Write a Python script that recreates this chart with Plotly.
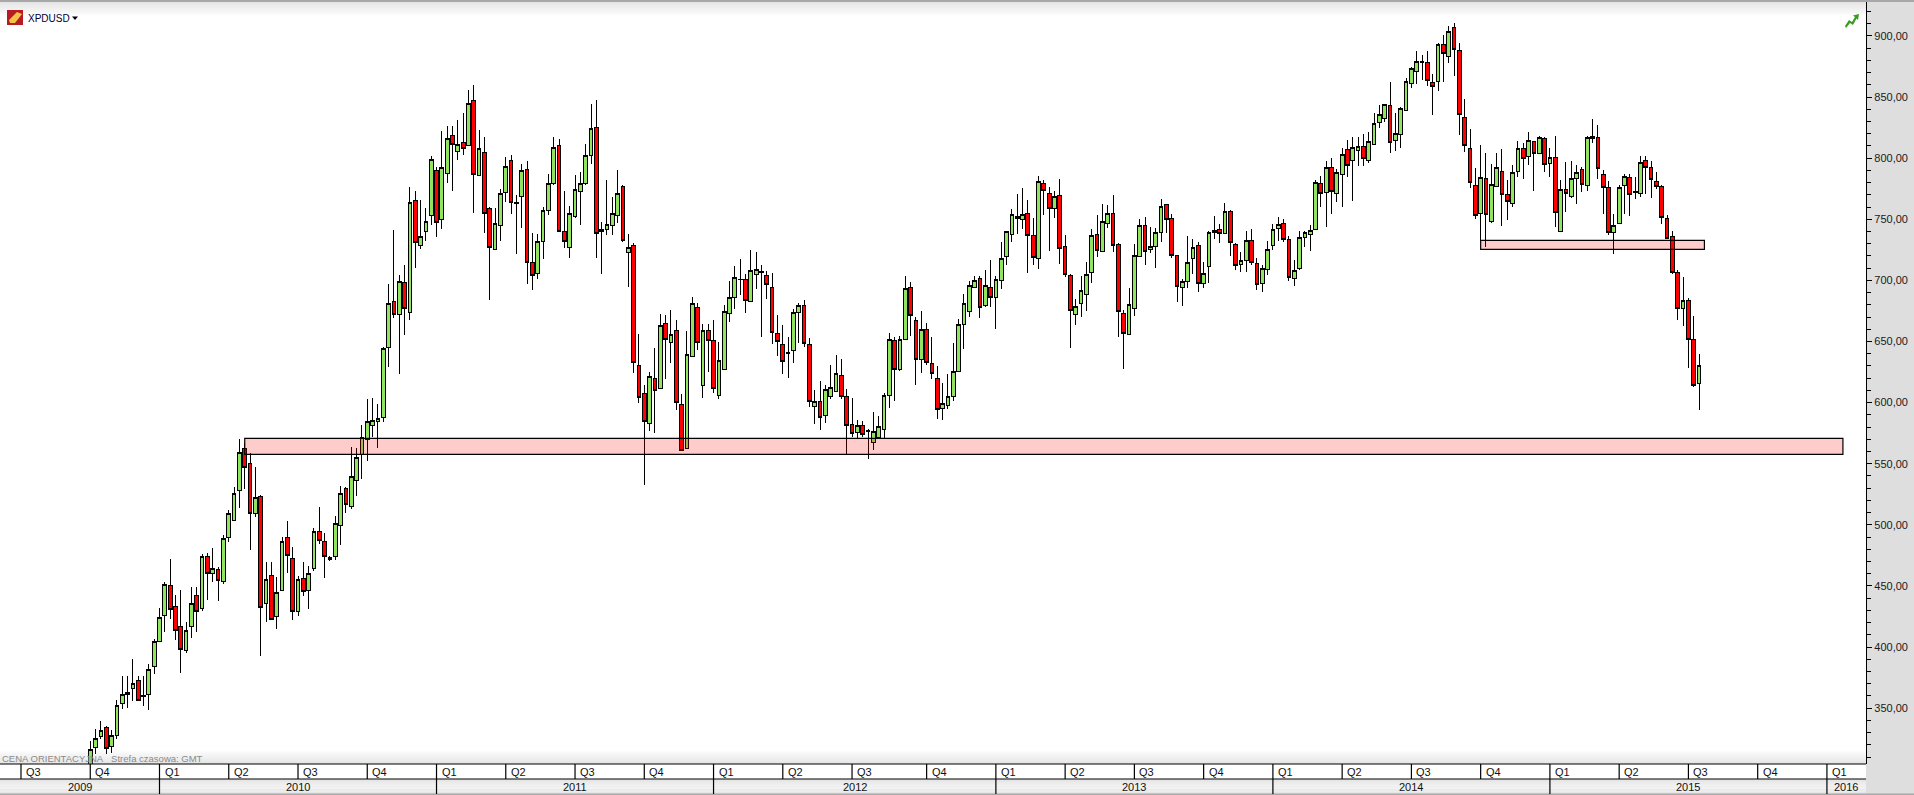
import pandas as pd
import plotly.graph_objects as go

first_week = "2009-09-28"

opens = [
302.0,317.8,326.8,333.9,318.7,327.7,353.9,362.9,366.1,372.4,360.4,361.2,384.1,404.6,425.9,450.4,433.2,416.6,397.2,416.9,
442.2,431.6,474.2,460.2,463.5,453.7,489.7,503.6,528.2,562.5,550.3,509.3,523.3,435.7,458.6,425.0,446.3,489.7,472.5,429.1,
456.1,446.3,464.3,494.6,486.4,473.6,474.2,499.5,529.8,515.1,536.3,557.7,570.2,581.4,584.7,588.0,645.2,682.9,672.2,698.4,
673.9,765.5,728.7,740.2,753.3,790.1,750.0,787.6,818.7,805.6,813.0,810.5,847.4,786.0,804.8,759.0,725.4,745.1,772.1,798.3,
763.9,768.8,790.9,714.8,705.8,732.0,757.4,779.4,810.5,740.2,727.1,752.4,772.9,779.4,802.4,825.3,740.2,741.8,745.1,753.3,
777.0,723.0,728.7,630.5,607.6,583.0,619.9,611.7,664.9,649.3,659.1,598.6,562.6,637.9,678.0,614.1,659.1,650.9,606.0,627.2,
673.1,686.2,700.9,700.9,682.9,704.9,706.9,704.2,694.3,656.7,647.7,640.9,642.8,673.9,679.6,647.7,596.9,601.0,589.6,605.1,
609.2,622.3,605.1,582.2,575.7,581.4,577.3,567.5,571.6,578.1,606.0,650.9,627.2,651.8,694.3,667.3,635.4,660.0,632.1,619.9,
595.3,597.8,605.1,625.6,664.1,674.7,694.3,701.7,679.6,694.3,686.2,700.1,719.7,737.7,750.8,750.0,754.9,736.9,718.1,779.5,
771.3,759.0,769.6,727.9,704.2,672.2,681.2,688.6,706.6,737.7,723.8,746.7,754.9,729.5,673.1,655.9,677.1,719.7,745.1,725.4,
727.9,739.4,762.0,750.8,720.5,694.3,699.2,718.1,728.7,697.6,711.5,739.4,741.8,738.5,756.5,729.5,713.2,716.4,732.8,714.0,
697.6,709.1,728.7,742.6,746.7,733.6,701.7,709.9,735.3,737.7,741.8,779.5,772.1,792.5,771.3,786.8,807.3,798.3,806.5,809.7,
798.3,811.4,829.4,832.7,843.3,814.7,819.6,839.2,861.3,871.1,879.0,878.5,862.1,862.9,893.2,883.4,907.1,888.3,833.5,808.1,
777.8,754.9,783.5,748.4,777.0,789.3,770.5,763.1,789.3,808.1,801.6,813.8,804.0,816.3,795.8,800.7,740.2,774.5,768.8,783.5,
790.9,777.8,816.3,817.1,786.8,776.2,739.4,746.7,777.8,784.4,772.9,771.3,798.3,792.6,781.1,777.0,750.8,736.1,706.6,677.2,
683.4,651.8,615.8,
]
closes = [
316.2,325.2,331.8,317.0,327.4,352.2,361.2,361.2,369.9,356.3,359.3,381.7,404.6,424.2,451.2,430.8,413.6,398.0,413.6,435.7,
429.1,474.2,460.2,464.3,454.5,488.9,509.3,525.7,559.3,547.0,509.3,522.4,432.4,455.3,422.6,444.7,486.4,475.0,429.1,455.3,
445.5,460.2,494.6,487.2,474.2,471.7,501.2,525.7,516.7,539.6,555.2,571.3,584.7,585.5,587.1,644.4,681.2,672.2,699.2,677.1,
763.9,731.2,736.1,748.3,799.1,747.5,792.5,816.3,811.4,811.4,808.1,844.9,786.8,808.1,754.9,727.1,746.7,771.3,793.4,763.9,
763.1,790.1,714.8,704.2,732.0,757.4,779.4,808.9,740.2,732.0,754.9,774.5,779.4,802.4,824.5,738.5,741.8,745.9,754.9,771.3,
732.8,727.1,632.9,604.3,584.7,621.5,610.0,663.2,651.8,655.9,600.2,561.2,639.5,681.2,649.3,659.1,650.9,611.7,634.6,674.7,
686.2,702.5,700.6,683.7,708.2,709.1,706.3,696.8,657.5,650.1,633.8,640.3,673.9,679.6,648.5,601.0,601.0,588.0,610.9,612.5,
623.9,605.1,581.4,574.8,581.4,574.0,576.5,576.5,580.6,606.0,651.8,627.2,651.8,693.5,671.4,635.4,660.0,632.9,623.9,594.5,
599.4,605.1,625.6,664.1,681.2,696.0,700.1,678.0,696.0,686.2,700.9,718.1,740.2,754.1,752.4,754.1,736.9,718.9,781.1,773.7,
759.0,768.8,726.3,705.0,675.5,678.8,691.9,705.0,736.9,724.6,748.3,754.9,728.7,674.7,656.7,680.4,720.5,745.1,723.8,727.9,
739.4,760.6,750.0,720.5,695.2,699.2,714.8,727.1,697.6,705.8,739.4,741.0,738.5,756.5,731.2,712.3,716.4,732.8,714.8,696.8,
709.9,725.4,741.8,745.9,733.6,702.5,708.2,735.3,739.4,741.0,780.3,771.3,792.5,772.9,788.5,803.2,794.2,808.9,809.7,799.9,
813.8,828.6,835.9,844.1,813.0,820.4,840.8,862.9,873.6,879.3,878.5,863.8,858.6,893.2,885.9,903.9,889.1,835.9,810.6,780.3,
753.3,784.4,754.1,778.6,792.6,770.5,764.7,788.5,808.1,799.9,814.7,804.0,817.1,795.0,800.7,755.7,774.5,771.3,783.5,788.5,
778.6,817.1,817.9,791.7,776.2,739.4,745.1,776.2,785.2,770.5,772.1,796.6,792.6,782.7,777.0,751.6,734.4,706.6,677.2,683.4,
651.8,614.1,630.2,
]
highs = [
323.0,332.6,339.1,335.0,331.8,356.3,376.2,376.2,389.9,376.5,376.2,385.8,406.2,431.6,452.9,472.0,442.2,446.3,420.1,448.8,
448.8,475.8,476.6,480.7,465.2,491.3,511.8,530.6,569.9,566.6,558.4,547.0,524.1,469.2,469.2,457.0,490.3,502.8,481.5,457.8,
469.2,466.0,497.1,514.3,493.0,474.2,506.9,531.4,530.6,563.6,562.5,581.7,602.7,603.5,598.6,645.2,696.8,741.2,704.2,712.3,
776.2,772.9,765.5,759.0,801.5,792.5,822.0,826.1,826.1,831.0,836.7,855.6,859.7,822.8,817.1,759.8,759.0,774.6,800.7,802.4,
769.6,795.0,797.5,738.5,738.0,759.8,786.8,817.1,815.5,772.9,760.6,786.0,788.5,811.4,844.1,847.4,747.5,781.9,768.0,790.1,
777.8,737.7,730.3,655.9,614.1,624.8,644.4,672.2,671.4,675.5,667.3,606.8,658.3,686.2,681.2,664.1,664.1,667.3,649.3,679.6,
699.2,711.5,717.2,705.0,724.6,723.0,712.3,707.4,705.8,671.4,663.2,653.4,676.3,681.2,683.7,652.6,610.0,617.4,614.1,630.5,
638.7,635.4,610.9,603.5,585.8,584.7,578.1,592.0,588.8,607.6,656.7,654.0,654.5,703.6,698.7,669.8,674.7,664.9,653.4,629.7,
615.8,623.1,648.5,668.1,688.9,699.2,703.3,703.3,708.5,716.4,703.3,731.4,740.2,758.2,770.5,775.4,765.8,750.8,785.2,781.9,
776.2,772.9,782.7,736.9,705.0,684.5,703.3,714.8,741.8,753.3,762.3,761.7,769.6,730.3,675.5,693.5,729.5,750.0,751.6,744.0,
742.6,766.4,762.3,754.1,720.5,700.9,736.1,733.6,731.2,714.8,740.2,752.4,745.9,763.1,757.4,730.3,723.3,740.2,741.8,718.1,
712.3,732.0,745.9,751.6,750.0,736.1,716.4,740.2,740.2,745.1,781.9,785.5,797.5,799.9,790.9,808.1,814.6,817.1,817.1,819.6,
821.7,837.3,843.3,844.1,862.1,836.7,841.7,865.4,874.9,887.5,884.2,887.5,868.7,894.0,900.6,907.9,910.4,894.0,848.2,823.7,
791.7,810.6,804.0,795.0,804.0,807.3,781.9,794.2,813.8,812.2,821.2,813.8,817.9,817.1,808.1,817.9,781.9,796.6,797.5,794.2,
792.6,817.9,831.8,826.9,790.1,781.1,754.1,777.8,786.8,786.8,784.4,801.6,801.6,797.5,788.5,777.8,753.3,740.2,708.3,702.5,
685.3,670.6,639.5,
]
lows = [
299.3,312.4,324.9,312.4,312.9,324.9,349.5,350.3,355.8,355.8,351.7,348.7,378.1,404.6,412.5,423.1,406.0,378.9,395.3,407.6,
412.5,429.7,438.4,453.4,437.9,451.8,486.2,503.6,514.0,529.3,479.6,506.1,392.9,420.7,422.6,415.0,446.3,460.2,422.3,425.6,
442.0,431.3,461.9,484.0,456.7,470.1,470.9,483.7,509.3,512.6,523.5,537.5,552.5,572.1,563.1,584.4,629.4,669.0,623.7,655.6,
667.3,710.4,726.0,732.5,745.1,735.8,742.3,779.4,773.4,798.8,802.4,810.5,755.2,786.0,739.1,684.2,725.4,732.5,764.2,754.6,
721.9,743.2,697.3,692.4,701.4,717.5,753.3,778.4,740.2,726.8,718.6,750.8,745.1,777.8,795.5,718.6,705.5,737.4,737.2,747.0,
731.2,694.9,624.5,599.9,532.8,577.0,574.8,611.7,619.6,632.7,594.2,561.2,562.6,637.9,642.8,603.5,624.8,607.6,603.2,626.4,
666.2,676.3,687.8,673.6,682.9,693.2,654.0,685.1,647.7,638.4,623.7,620.4,632.7,648.5,645.8,596.1,582.8,577.8,583.0,602.7,
609.0,602.7,557.7,572.1,569.9,572.1,554.1,561.2,570.8,570.8,595.6,601.6,626.1,651.8,654.5,614.7,624.5,630.8,619.0,586.3,
585.5,594.5,601.0,624.8,644.1,670.3,694.3,669.5,678.5,678.5,660.5,693.0,712.6,731.7,738.3,742.4,706.3,712.6,709.6,753.8,
724.3,751.4,713.4,702.5,645.0,663.2,670.3,675.2,698.1,719.4,723.8,743.2,723.0,653.4,627.8,655.9,671.1,719.7,712.9,722.2,
710.4,731.7,738.5,718.1,682.6,679.3,693.5,705.0,690.2,693.5,698.1,733.6,730.9,737.7,720.3,708.2,707.2,707.2,712.3,692.4,
690.2,704.7,725.2,732.0,731.2,699.2,695.2,708.2,727.6,724.3,741.0,759.8,744.0,754.1,764.4,759.8,784.4,764.7,793.4,793.4,
795.8,810.6,824.5,829.4,804.6,806.2,808.6,839.2,857.5,860.5,864.0,859.4,835.7,855.3,862.7,878.2,867.6,819.0,805.4,775.9,
750.0,731.7,727.6,747.3,777.0,744.8,749.7,759.8,784.9,783.0,794.2,773.2,803.2,789.0,784.4,744.0,740.2,756.3,767.2,762.8,
772.6,773.5,812.2,782.7,754.1,736.9,721.9,746.7,754.1,753.0,766.4,768.0,770.5,767.7,774.5,745.9,733.6,705.0,667.9,663.0,
628.6,613.0,594.2,
]

quarter_labels = ["Q3","Q4","Q1","Q2","Q3","Q4","Q1","Q2","Q3","Q4","Q1","Q2","Q3","Q4",
                  "Q1","Q2","Q3","Q4","Q1","Q2","Q3","Q4","Q1","Q2","Q3","Q4","Q1"]
quarter_weeks = ["2009-06-29","2009-09-28","2009-12-28","2010-03-29","2010-06-28","2010-09-27",
                 "2010-12-27","2011-03-28","2011-06-27","2011-09-26","2011-12-26","2012-03-26",
                 "2012-06-25","2012-10-01","2012-12-31","2013-04-01","2013-07-01","2013-09-30",
                 "2013-12-30","2014-03-31","2014-06-30","2014-09-29","2014-12-29","2015-03-30",
                 "2015-06-29","2015-09-28","2015-12-28"]
year_labels = ["2009","2010","2011","2012","2013","2014","2015","2016"]
year_weeks = ["2009-12-28","2010-12-27","2011-12-26","2012-12-31","2013-12-30","2014-12-29","2015-12-28"]

price_ticks = [350,400,450,500,550,600,650,700,750,800,850,900]
price_tick_text = ["350,00","400,00","450,00","500,00","550,00","600,00","650,00","700,00","750,00","800,00","850,00","900,00"]
minor_price_ticks = [v for v in range(310, 930, 10)]

zones = [("2010-04-19","2016-01-18",557.6,570.7),("2014-09-29","2015-07-20",725.4,732.8)]

view_dates = ["2009-06-01 10:00","2016-02-17 08:00"]
view_prices = [304.3,927.8]

PW, PT, PB = 1866, 2, 764
fx = lambda px: px / PW
fy = lambda py: (PB - py) / (PB - PT)
def rect(x0, y0, x1, y1, fill, layer="above"):
    return dict(type="rect", xref="paper", yref="paper", x0=fx(x0), x1=fx(x1), y0=fy(y0), y1=fy(y1),
                fillcolor=fill, line_width=0, layer=layer)
def poly(points, fill, line=None):
    d = "M" + " L".join(f"{fx(a):.6f},{fy(b):.6f}" for a, b in points) + " Z"
    s = dict(type="path", xref="paper", yref="paper", path=d, fillcolor=fill, layer="above", line_width=0)
    if line:
        s["line"] = dict(color=line, width=1)
    return s

dates = pd.date_range(first_week, periods=len(opens), freq="7D")

fig = go.Figure(go.Candlestick(
    x=dates, open=opens, high=highs, low=lows, close=closes,
    increasing=dict(fillcolor="#90E45F", line=dict(color="#000000", width=1)),
    decreasing=dict(fillcolor="#FF0000", line=dict(color="#000000", width=1)),
    whiskerwidth=0, hoverinfo="skip", showlegend=False,
))

shapes = []
for a, b, lo, hi in zones:
    shapes.append(dict(type="rect", xref="x", yref="y", x0=a, x1=b, y0=lo, y1=hi,
                       fillcolor="rgba(255,0,0,0.2)", line=dict(color="#000000", width=1.2), layer="above"))
# top and bottom fades of the pane
for i in range(8):
    a = 0.30 * (1 - i / 8)
    shapes.append(rect(0, 2 + 1.7 * i, PW, 2 + 1.7 * (i + 1), f"rgba(170,170,170,{a:.3f})"))
    shapes.append(rect(0, PB - 1.7 * (i + 1), PW, PB - 1.7 * i, f"rgba(170,170,170,{a:.3f})"))
shapes.append(rect(0, 0, 1914, 2, "#A8A8A8"))
# time axis rows
shapes.append(rect(0, 764, PW, 779, "#FFFFFF"))
for i, g in enumerate(["#E6E6E6", "#ECECEC", "#F2F2F2", "#F2F2F2", "#ECECEC", "#E4E4E4"]):
    shapes.append(rect(0, 779 + 2.6 * i, PW, 779 + 2.6 * (i + 1), g))
shapes.append(rect(0, 793.5, 1914, 795, "#A8A8A8"))
for py in (764, 779):
    shapes.append(dict(type="line", xref="paper", yref="paper", x0=0, x1=1, y0=fy(py), y1=fy(py),
                       line=dict(color="#000000", width=1.2), layer="above"))
for w in quarter_weeks:
    shapes.append(dict(type="line", xref="x", yref="paper", x0=w, x1=w, y0=fy(764), y1=fy(779),
                       line=dict(color="#000000", width=1.2), layer="above"))
for w in year_weeks:
    shapes.append(dict(type="line", xref="x", yref="paper", x0=w, x1=w, y0=fy(779), y1=fy(794),
                       line=dict(color="#000000", width=1.2), layer="above"))
# instrument icon, menu arrow, status arrow
shapes.append(rect(7, 10, 23, 25, "#B81C22"))
shapes.append(poly([(9, 20), (17, 12), (22, 14), (15, 23), (10, 23)], "#F4C24A"))
shapes.append(poly([(72, 16.5), (78, 16.5), (75, 20)], "#000000"))
shapes.append(poly([(1845, 26), (1849, 20), (1852, 22), (1855, 17), (1853, 15.5), (1859, 14),
                    (1858, 20), (1856.5, 18.5), (1853, 25), (1850, 23), (1846, 28)], "#3A9A22"))

ann = []
for lab, w in zip(quarter_labels, quarter_weeks):
    ann.append(dict(x=w, xref="x", y=fy(772), yref="paper", text=lab, showarrow=False, xanchor="left",
                    yanchor="middle", xshift=3, font=dict(family="Liberation Sans", size=11, color="#111111")))
bounds = [pd.Timestamp(view_dates[0])] + [pd.Timestamp(w) for w in year_weeks] + [pd.Timestamp(view_dates[1])]
for i, lab in enumerate(year_labels):
    mid = bounds[i] + (bounds[i + 1] - bounds[i]) / 2
    ann.append(dict(x=mid, xref="x", y=fy(787), yref="paper", text=lab, showarrow=False, xanchor="center",
                    yanchor="middle", font=dict(family="Liberation Sans", size=11, color="#111111")))
ann.append(dict(x=fx(26), xref="paper", y=fy(18.5), yref="paper", text="XPDUSD", showarrow=False, xanchor="left",
                yanchor="middle", font=dict(family="Liberation Sans", size=10, color="#000033")))
ann.append(dict(x=0, xref="paper", y=fy(758), yref="paper", showarrow=False, xanchor="left", yanchor="middle",
                text="CENA ORIENTACYJNA&nbsp;&nbsp;&nbsp;Strefa czasowa: GMT",
                font=dict(family="Liberation Sans", size=9.5, color="#8A8A8A")))

fig.update_layout(
    width=1914, height=795, margin=dict(l=0, r=1914 - PW, t=PT, b=795 - PB, pad=0, autoexpand=False),
    paper_bgcolor="#DEDEDE", plot_bgcolor="#FFFFFF", showlegend=False, boxgap=0.13, boxgroupgap=0.2,
    shapes=shapes, annotations=ann, hovermode=False,
    xaxis=dict(type="date", range=view_dates, rangeslider=dict(visible=False), showgrid=False,
               showticklabels=False, ticks="", zeroline=False, fixedrange=True),
    yaxis=dict(side="right", range=view_prices, showgrid=False, zeroline=False, fixedrange=True,
               showline=True, linecolor="#000000", linewidth=1.2,
               tickmode="array", tickvals=price_ticks, ticktext=price_tick_text,
               ticks="outside", ticklen=5, tickwidth=1, tickcolor="#000000",
               tickfont=dict(family="Liberation Sans", size=11, color="#1A1A1A"),
               minor=dict(tickmode="array", tickvals=minor_price_ticks, ticks="outside", ticklen=3.5,
                          tickwidth=1, tickcolor="#000000")),
)

crisp = ("document.body.style.margin='0';document.documentElement.style.overflow='hidden';"
         "var crisp=function(){document.querySelectorAll('.boxes path').forEach(function(p){"
         "p.style.shapeRendering='crispEdges';});};crisp();setTimeout(crisp,100);")
fig.write_html("out.html", config={"displayModeBar": False}, post_script=crisp)
